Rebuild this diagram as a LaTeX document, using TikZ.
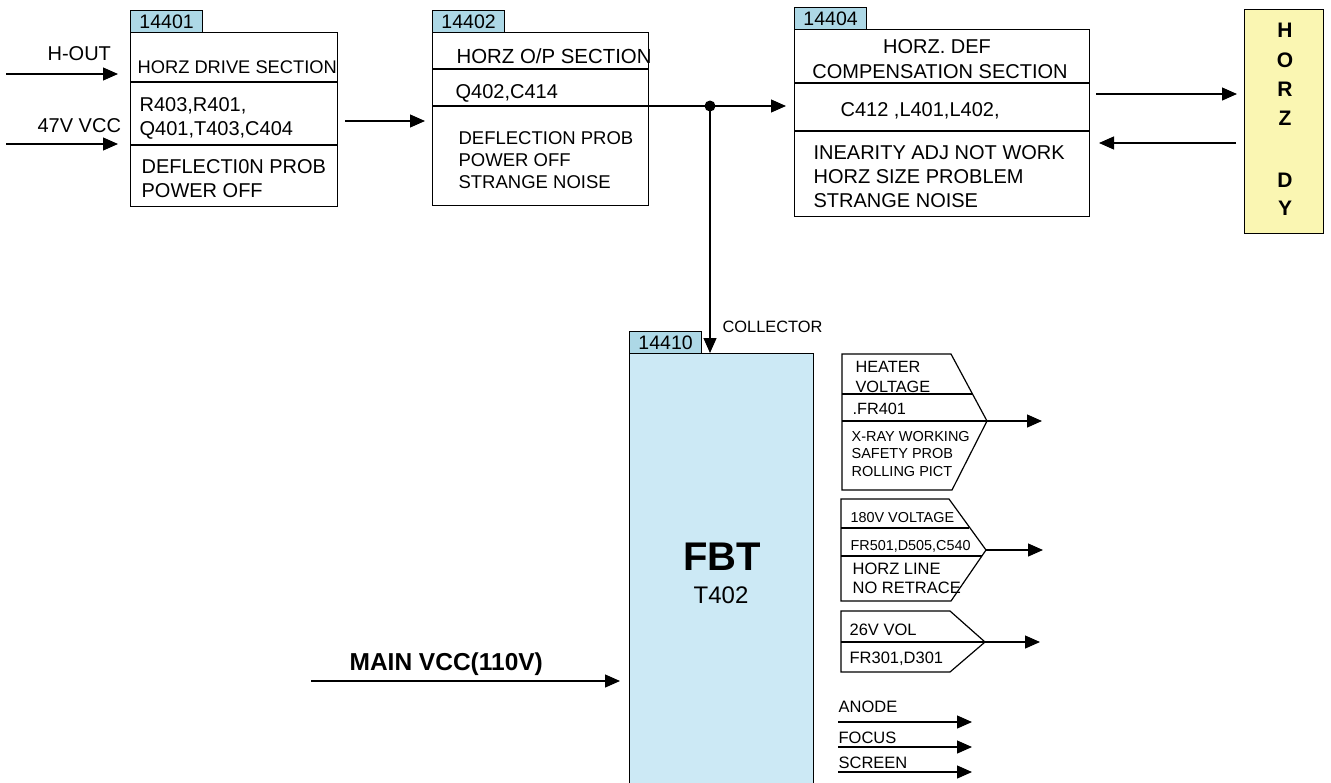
\documentclass[tikz,border=0pt]{standalone}
\usepackage{fontspec}
\setmainfont{Liberation Sans}
\usetikzlibrary{arrows.meta}
\definecolor{tagblue}{RGB}{173,216,230}
\definecolor{fbtblue}{RGB}{204,233,245}
\definecolor{dyyellow}{RGB}{250,246,178}
\tikzset{
  tx/.style={inner sep=0pt, anchor=west, font=\fontsize{#1pt}{#1pt}\selectfont, text height={0.716*#1pt}, text depth=0pt},
  bx/.style={inner sep=0pt, anchor=west, font=\fontsize{#1pt}{#1pt}\selectfont\bfseries, text height={0.716*#1pt}, text depth=0pt},
  tagbox/.style={draw, fill=tagblue, inner sep=0pt, minimum width=72pt, minimum height=22pt, anchor=north west, font=\fontsize{19.5pt}{19.5pt}\selectfont},
  blk/.style={draw, inner sep=0pt, anchor=north west},
  arr/.style={-{Triangle[length=15pt,width=13pt]}},
}
\begin{document}
\begin{tikzpicture}[x=1pt,y=-1pt,line width=1.2pt]
\useasboundingbox (0,0) rectangle (1331,782);
\clip (0,0) rectangle (1331,782);

% ---------- Box 14401 ----------
\node[tagbox] (tag1) at (130,10) {14401};
\node[blk, minimum width=207pt, minimum height=174pt] (b1) at (130,32) {};
\draw (130,82) -- (337,82);
\draw (130,145) -- (337,145);
\node[tx=18.3] (b1a) at (137,67) {HORZ DRIVE SECTION};
\node[tx=20] (b1b) at (139,104) {R403,R401,};
\node[tx=20] (b1c) at (139,128) {Q401,T403,C404};
\node[tx=20] (b1d) at (141,166) {DEFLECTI0N PROB};
\node[tx=20] (b1e) at (141,190) {POWER OFF};

\node[tx=20] (hout) at (47,53) {H-OUT};
\node[tx=20] (vcc47) at (37,125) {47V VCC};
\coordinate (hs) at (6,74); \coordinate (he) at (118,74);
\coordinate (vs) at (6,144); \coordinate (ve) at (118,144);
\draw[arr] (hs) -- (he);
\draw[arr] (vs) -- (ve);

\coordinate (a12s) at (345,121); \coordinate (a12e) at (425,121);
\draw[arr] (a12s) -- (a12e);

% ---------- Box 14402 ----------
\node[tagbox] (tag2) at (432,10) {14402};
\node[blk, minimum width=216pt, minimum height=173pt] (b2) at (432,32) {};
\draw (432,69) -- (648,69);
\draw (432,106) -- (648,106);
\node[tx=20.4] (b2a) at (456,56) {HORZ O/P SECTION};
\node[tx=20] (b2b) at (455,91) {Q402,C414};
\node[tx=18.5] (b2c) at (458,138) {DEFLECTION PROB};
\node[tx=18.5] (b2d) at (458,160) {POWER OFF};
\node[tx=18.5] (b2e) at (458,182) {STRANGE NOISE};

\coordinate (o2s) at (648,106);
\coordinate (jn) at (710,106);
\coordinate (o2e) at (786,106);
\draw[arr] (o2s) -- (o2e);
\fill (jn) circle (5.5pt);

% ---------- Box 14404 ----------
\node[tagbox] (tag3) at (794,7) {14404};
\node[blk, minimum width=295pt, minimum height=187pt] (b3) at (794,29) {};
\draw (794,83) -- (1089,83);
\draw (794,131) -- (1089,131);
\node[tx=20, anchor=center] (b3a) at (937,46) {HORZ. DEF};
\node[tx=20, anchor=center] (b3b) at (940,71) {COMPENSATION SECTION};
\node[tx=20] (b3c) at (840,109) {C412 ,L401,L402,};
\node[tx=20] (b3d) at (813,152) {INEARITY ADJ NOT WORK};
\node[tx=20] (b3e) at (813,176) {HORZ SIZE PROBLEM};
\node[tx=20] (b3f) at (813,200) {STRANGE NOISE};

% ---------- HORZ DY ----------
\node[blk, fill=dyyellow, minimum width=79pt, minimum height=224pt] (dy) at (1244,9) {};
\node[bx=21, anchor=center] (dyH) at (1285,30) {H};
\node[bx=21, anchor=center] (dyO) at (1285,60) {O};
\node[bx=21, anchor=center] (dyR) at (1285,89) {R};
\node[bx=21, anchor=center] (dyZ) at (1285,118) {Z};
\node[bx=21, anchor=center] (dyD) at (1285,180) {D};
\node[bx=21, anchor=center] (dyY) at (1285,208) {Y};

\coordinate (r1s) at (1096,94); \coordinate (r1e) at (1237,94);
\coordinate (l1s) at (1236,143); \coordinate (l1e) at (1099,143);
\draw[arr] (r1s) -- (r1e);
\draw[arr] (l1s) -- (l1e);

% ---------- FBT ----------
\node[blk, fill=fbtblue, minimum width=184pt, minimum height=450pt] (fbt) at (629,353) {};
\node[tagbox] (tag4) at (629,331) {14410};
\coordinate (ce) at (710,353);
\draw[arr] (jn) -- (ce);
\node[tx=16.4] (coll) at (722,327) {COLLECTOR};
\node[bx=40, anchor=center] (fbtl) at (722,556) {FBT};
\node[tx=24, anchor=center] (t402) at (721,595) {T402};

\node[bx=24.5] (mvcc) at (349,662) {MAIN VCC(110V)};
\coordinate (ms) at (311,681); \coordinate (me) at (620,681);
\draw[arr] (ms) -- (me);

% ---------- Output pentagons ----------
\draw (842,354) -- (951,354) -- (987,421) -- (952,490) -- (842,490) -- cycle;
\draw (842,394) -- (972,394);
\draw (842,421) -- (987,421);
\node[tx=16.3] (p1a) at (855,367) {HEATER};
\node[tx=16.3] (p1b) at (855,387) {VOLTAGE};
\node[tx=16.3] (p1c) at (852,409) {.FR401};
\node[tx=14.5] (p1d) at (851,436) {X-RAY WORKING};
\node[tx=14.5] (p1e) at (851,453) {SAFETY PROB};
\node[tx=14.5] (p1f) at (851,471) {ROLLING PICT};
\coordinate (p1t) at (987,421); \coordinate (p1o) at (1042,421);
\draw[arr] (p1t) -- (p1o);

\draw (841,499) -- (949,499) -- (986,550) -- (951,601) -- (841,601) -- cycle;
\draw (841,528) -- (969,528);
\draw (841,556) -- (982,556);
\node[tx=14.4] (p2a) at (850,517) {180V VOLTAGE};
\node[tx=14.4] (p2b) at (850,545) {FR501,D505,C540};
\node[tx=16.5] (p2c) at (852,569) {HORZ LINE};
\node[tx=16.5] (p2d) at (852,588) {NO RETRACE};
\coordinate (p2t) at (986,550); \coordinate (p2o) at (1043,550);
\draw[arr] (p2t) -- (p2o);

\draw (841,611) -- (950,611) -- (985,642) -- (950,672) -- (841,672) -- cycle;
\draw (841,642) -- (985,642);
\node[tx=16.5] (p3a) at (849,630) {26V VOL};
\node[tx=16.5] (p3b) at (849,658) {FR301,D301};
\coordinate (p3t) at (985,642); \coordinate (p3o) at (1040,642);
\draw[arr] (p3t) -- (p3o);

% ---------- HV outputs ----------
\node[tx=16.5] (anode) at (838,707) {ANODE};
\node[tx=16.5] (focus) at (838,738) {FOCUS};
\node[tx=16.5] (screen) at (838,763) {SCREEN};
\coordinate (as) at (838,722); \coordinate (ae) at (972,722);
\coordinate (fs) at (838,747); \coordinate (fe) at (972,747);
\coordinate (ss) at (838,772); \coordinate (se) at (972,772);
\draw[arr] (as) -- (ae);
\draw[arr] (fs) -- (fe);
\draw[arr] (ss) -- (se);
\end{tikzpicture}
\end{document}
